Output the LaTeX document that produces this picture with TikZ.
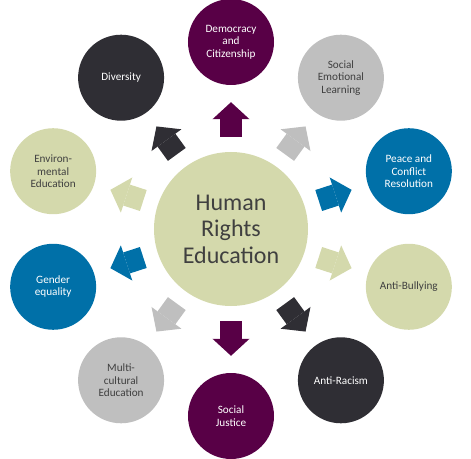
\documentclass[tikz,border=0pt]{standalone}
\usepackage{fontspec}
\setmainfont{Carlito}
\usepackage{tikz}
\usetikzlibrary{arrows.meta}

\definecolor{plum}{HTML}{580046}
\definecolor{hreblue}{HTML}{0070A8}
\definecolor{charcoal}{HTML}{2F2E34}
\definecolor{silver}{HTML}{BFBFBF}
\definecolor{sage}{HTML}{D4D9AC}
\definecolor{inkgray}{HTML}{404040}

\tikzset{
  topic/.style={circle, minimum size=86pt, inner sep=0pt, align=center, font=\fontsize{11.2}{12.4}\selectfont},
  darktopic/.style={topic, text=white},
  lighttopic/.style={topic, text=inkgray},
  hub/.style={circle, fill=sage, minimum size=154pt, inner sep=0pt, align=center, text=inkgray, font=\fontsize{24}{26.5}\selectfont},
  spoke/.style={line width=22pt, shorten <=15pt, shorten >=17pt, -{Triangle[width=37pt, length=17pt, line width=0pt]}}
}

\begin{document}
\begin{tikzpicture}
\useasboundingbox (-231pt,-229pt) rectangle (240pt,229pt);

% hub
\node[hub] (hre) at (0,0) {Human\\Rights\\Education};

% topics round the hub
\node[darktopic, fill=plum] (demo) at (90:187pt) {Democracy\\and\\Citizenship};
\node[lighttopic, fill=silver] (sel) at (54:187pt) {Social\\Emotional\\Learning};
\node[darktopic, fill=hreblue] (peace) at (18:187pt) {Peace and\\Conflict\\Resolution};
\node[lighttopic, fill=sage] (bully) at (-18:187pt) {Anti-Bullying};
\node[darktopic, fill=charcoal] (racism) at (-54:187pt) {Anti-Racism};
\node[darktopic, fill=plum] (justice) at (-90:187pt) {Social\\Justice};
\node[lighttopic, fill=silver] (multi) at (-126:187pt) {Multi-\\cultural\\Education};
\node[darktopic, fill=hreblue] (gender) at (-162:187pt) {Gender\\equality};
\node[lighttopic, fill=sage] (environ) at (162:187pt) {Environ-\\mental\\Education};
\node[darktopic, fill=charcoal] (diversity) at (126:187pt) {Diversity};

% block arrows
\draw[spoke, plum] (hre) -- (demo);
\draw[spoke, silver] (hre) -- (sel);
\draw[spoke, hreblue] (hre) -- (peace);
\draw[spoke, sage] (hre) -- (bully);
\draw[spoke, charcoal] (hre) -- (racism);
\draw[spoke, plum] (hre) -- (justice);
\draw[spoke, silver] (hre) -- (multi);
\draw[spoke, hreblue] (hre) -- (gender);
\draw[spoke, sage] (hre) -- (environ);
\draw[spoke, charcoal] (hre) -- (diversity);
\end{tikzpicture}
\end{document}
